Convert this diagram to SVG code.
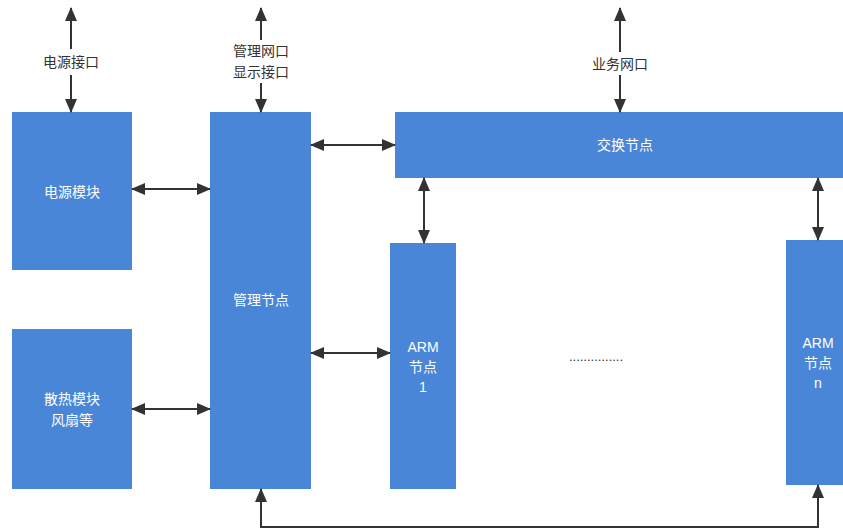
<svg xmlns="http://www.w3.org/2000/svg" width="843" height="529" viewBox="0 0 843 529">
<style>
.box{fill:#4a86d8;}
.t{fill:#ffffff;font-family:"Liberation Sans","Noto Sans CJK SC",sans-serif;font-size:14px;text-anchor:middle;dominant-baseline:central;}
.lbl{fill:#333333;font-family:"Liberation Sans","Noto Sans CJK SC",sans-serif;font-size:14px;text-anchor:middle;dominant-baseline:central;}
.c{stroke:#333333;stroke-width:2;fill:none;}
</style>
<defs>
<marker id="ah" viewBox="0 0 14 12" refX="13" refY="6" markerWidth="14" markerHeight="12" markerUnits="userSpaceOnUse" orient="auto-start-reverse">
<path d="M0,0 L14,6 L0,12 Z" fill="#333333"/>
</marker>
</defs>
<rect width="843" height="529" fill="#ffffff"/>
<g id="power"><rect class="box" x="12" y="112" width="120" height="158"/><text class="t" x="72" y="192">电源模块</text></g>
<g id="cooling"><rect class="box" x="12" y="329" width="120" height="160"/><text class="t" x="72" y="399">散热模块</text><text class="t" x="72" y="420">风扇等</text></g>
<g id="mgmt"><rect class="box" x="210" y="112" width="101" height="377"/><text class="t" x="261" y="300">管理节点</text></g>
<g id="switch"><rect class="box" x="395" y="112" width="448" height="66"/><text class="t" x="625" y="145">交换节点</text></g>
<g id="arm1"><rect class="box" x="390" y="243" width="66" height="246"/><text class="t" x="423" y="347">ARM</text><text class="t" x="423" y="367">节点</text><text class="t" x="423" y="387">1</text></g>
<g id="armn"><rect class="box" x="786" y="240" width="57" height="245"/><text class="t" x="818" y="343">ARM</text><text class="t" x="818" y="363">节点</text><text class="t" x="818" y="383">n</text></g>
<text class="lbl" x="596" y="356" style="font-size:13px">...............</text>
<g id="connectors">
<line class="c" x1="71" y1="8" x2="71" y2="49" marker-start="url(#ah)"/>
<line class="c" x1="71" y1="75" x2="71" y2="112" marker-end="url(#ah)"/>
<text class="lbl" x="71" y="62">电源接口</text>
<line class="c" x1="261" y1="8" x2="261" y2="40" marker-start="url(#ah)"/>
<line class="c" x1="261" y1="83" x2="261" y2="112" marker-end="url(#ah)"/>
<text class="lbl" x="261" y="51">管理网口</text>
<text class="lbl" x="261" y="72">显示接口</text>
<line class="c" x1="620" y1="8" x2="620" y2="52" marker-start="url(#ah)"/>
<line class="c" x1="620" y1="75" x2="620" y2="112" marker-end="url(#ah)"/>
<text class="lbl" x="620" y="64">业务网口</text>
<line class="c" x1="132" y1="189" x2="210" y2="189" marker-start="url(#ah)" marker-end="url(#ah)"/>
<line class="c" x1="132" y1="409" x2="210" y2="409" marker-start="url(#ah)" marker-end="url(#ah)"/>
<line class="c" x1="311" y1="145" x2="395" y2="145" marker-start="url(#ah)" marker-end="url(#ah)"/>
<line class="c" x1="311" y1="353" x2="390" y2="353" marker-start="url(#ah)" marker-end="url(#ah)"/>
<line class="c" x1="424" y1="178" x2="424" y2="243" marker-start="url(#ah)" marker-end="url(#ah)"/>
<line class="c" x1="818" y1="178" x2="818" y2="240" marker-start="url(#ah)" marker-end="url(#ah)"/>
<polyline class="c" points="261,489 261,527 818,527 818,485" marker-start="url(#ah)" marker-end="url(#ah)"/>
</g>
</svg>
